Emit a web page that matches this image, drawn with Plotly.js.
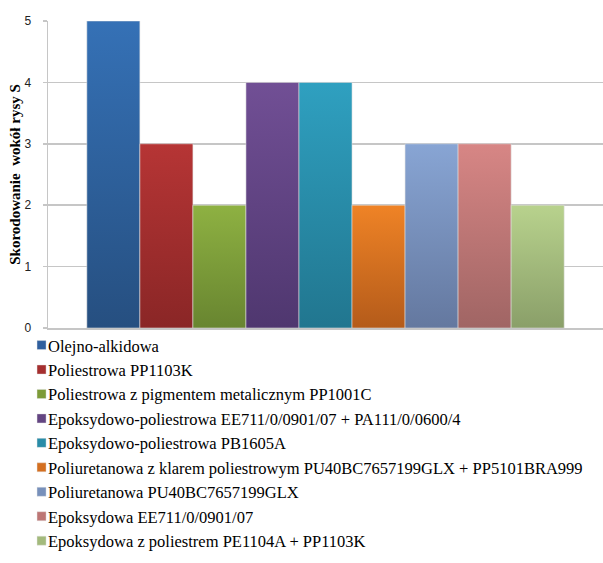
<!DOCTYPE html>
<html>
<head>
<meta charset="utf-8">
<script src="https://cdn.plot.ly/plotly-3.0.1.min.js"></script>
<style>
  html, body { margin: 0; padding: 0; background: #fff; }
  #chart { width: 603px; height: 563px; }
</style>
</head>
<body>
<div id="chart"></div>
<script>
// Single category: corrosion around the scratch, S
const categories = ['S'];

const seriesNames = [
  'Olejno-alkidowa',
  'Poliestrowa PP1103K',
  'Poliestrowa z pigmentem metalicznym PP1001C',
  'Epoksydowo-poliestrowa EE711/0/0901/07 + PA111/0/0600/4',
  'Epoksydowo-poliestrowa PB1605A',
  'Poliuretanowa z klarem poliestrowym PU40BC7657199GLX + PP5101BRA999',
  'Poliuretanowa PU40BC7657199GLX',
  'Epoksydowa EE711/0/0901/07',
  'Epoksydowa z poliestrem PE1104A + PP1103K'
];

const seriesValues = [5, 3, 2, 4, 4, 2, 3, 3, 2];

const yTickValues = [0, 1, 2, 3, 4, 5];

// Solid colour per series (legend swatch) and its top/bottom gradient stops
const baseColors   = ['#2f5f9e', '#a52f2f', '#7d9b38', '#634582', '#298ca8', '#d46f20', '#7790bb', '#bd7675', '#a3ba7c'];
const topColors    = ['#3571b6', '#b63535', '#8eb142', '#714f95', '#2fa0c0', '#ef8326', '#88a5d4', '#d78685', '#b8d28d'];
const bottomColors = ['#264f80', '#8a2626', '#688530', '#4f376f', '#21768f', '#b45b1a', '#64789f', '#a06564', '#8a9f69'];

const serif = 'Liberation Serif';
const sans = 'Liberation Sans';

const traces = seriesNames.map((name, i) => ({
  type: 'bar',
  name: name,
  x: categories,
  y: [seriesValues[i]],
  marker: {
    color: baseColors[i],
    line: { color: 'rgba(225,225,225,0.7)', width: 0.8 }
  },
  hoverinfo: 'skip'
}));

const gridColor = '#c6c6c6';

const layout = {
  width: 603,
  height: 563,
  font: { family: serif, size: 16.5, color: '#000' },
  margin: { l: 48, r: 0, t: 21, b: 235, pad: 0 },
  paper_bgcolor: '#ffffff',
  plot_bgcolor: '#ffffff',
  barmode: 'group',
  bargap: 0.14,
  bargroupgap: 0,
  showlegend: true,
  legend: {
    orientation: 'v',
    x: -0.072,
    y: 0.0005,
    xanchor: 'left',
    yanchor: 'top',
    bgcolor: 'rgba(0,0,0,0)',
    borderwidth: 0,
    traceorder: 'normal',
    font: { family: serif, size: 16.5, color: '#000' }
  },
  xaxis: {
    type: 'category',
    showticklabels: false,
    ticks: '',
    showgrid: false,
    zeroline: false,
    showline: true,
    linecolor: gridColor,
    linewidth: 1.5,
    fixedrange: true
  },
  yaxis: {
    range: [0, 5],
    tickvals: yTickValues,
    ticktext: yTickValues.map(String),
    ticks: 'outside',
    ticklen: 4,
    tickwidth: 1.5,
    tickcolor: gridColor,
    ticklabelstandoff: 9,
    tickfont: { family: sans, size: 12, color: '#222' },
    showgrid: true,
    gridcolor: gridColor,
    gridwidth: 1.5,
    zeroline: false,
    showline: true,
    linecolor: gridColor,
    linewidth: 1.5,
    fixedrange: true,
    title: {
      text: 'Skorodowanie  wokół rysy S',
      standoff: 0,
      font: { family: serif, size: 15, color: '#000', weight: 'bold' }
    }
  }
};

const gd = document.getElementById('chart');
Plotly.newPlot(gd, traces, layout, { displayModeBar: false, staticPlot: true }).then(() => {
  const svg = gd.querySelector('.main-svg');
  const ns = 'http://www.w3.org/2000/svg';

  // vertical shading on each bar: lighter at the top, deeper at the base
  let defs = svg.querySelector('defs');
  if (!defs) { defs = document.createElementNS(ns, 'defs'); svg.insertBefore(defs, svg.firstChild); }
  topColors.forEach((top, i) => {
    const g = document.createElementNS(ns, 'linearGradient');
    g.setAttribute('id', 'barShade' + i);
    g.setAttribute('x1', '0'); g.setAttribute('y1', '0');
    g.setAttribute('x2', '0'); g.setAttribute('y2', '1');
    [[0, top], [1, bottomColors[i]]].forEach(([off, col]) => {
      const s = document.createElementNS(ns, 'stop');
      s.setAttribute('offset', off);
      s.setAttribute('stop-color', col);
      g.appendChild(s);
    });
    defs.appendChild(g);
  });
  gd.querySelectorAll('.barlayer .trace').forEach((tr, i) => {
    tr.querySelectorAll('path').forEach(p => { p.style.fill = 'url(#barShade' + i + ')'; });
  });

  // smaller legend swatches, set right beside their labels
  gd.querySelectorAll('.legend .legendpoints path').forEach(p => {
    p.setAttribute('transform', 'translate(33.5,0) scale(0.75)');
  });
});
</script>
</body>
</html>
